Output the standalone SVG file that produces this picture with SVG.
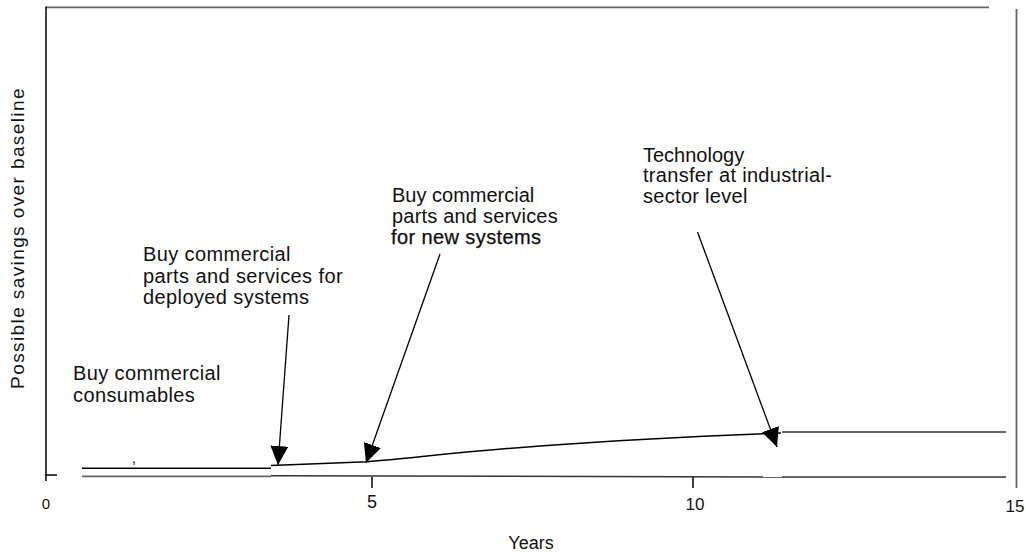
<svg xmlns="http://www.w3.org/2000/svg" width="1026" height="552" viewBox="0 0 1026 552">
<style>
text{font-family:"Liberation Sans",Arial,sans-serif;fill:#111}
.lbl{font-size:20px;letter-spacing:0.4px}
.tick{font-size:17px;text-anchor:middle}
.ax{stroke:#000;stroke-width:1.5;fill:none}
.gr{stroke:#666;stroke-width:1.8;fill:none}
.arr{stroke:#000;stroke-width:1.3;fill:none;marker-end:url(#ah)}
</style>
<defs>
<marker id="ah" markerUnits="userSpaceOnUse" markerWidth="21" markerHeight="19" refX="19" refY="9" orient="auto">
<path d="M0,0 L19,9 L0,18 Z" fill="#000"/>
</marker>
</defs>
<rect width="1026" height="552" fill="#fff"/>
<g id="frame">
<line class="gr" x1="46" y1="7.3" x2="989" y2="7.3"/>
<line class="ax" x1="46" y1="6.5" x2="46" y2="476"/>
<line class="gr" x1="1016.5" y1="9" x2="1016.5" y2="488" stroke-width="2"/>
<line class="ax" x1="45" y1="475" x2="57" y2="475" stroke-width="1"/>
<line class="ax" x1="46" y1="475" x2="46" y2="481" stroke-width="1"/>
<line class="ax" x1="372" y1="477" x2="372" y2="488" stroke="#444"/>
<line class="ax" x1="693" y1="477" x2="693" y2="488" stroke="#666"/>
</g>
<g id="savings-lines">
<line class="ax" x1="82" y1="468.3" x2="271" y2="468.3"/>
<line class="gr" x1="82" y1="476.3" x2="271" y2="476.3"/>
<path class="ax" d="M271,465.5 L367,461.7 C420,457 470,451 540,446 C620,440 700,436 781,433"/>
<line x1="271" y1="475.8" x2="782" y2="477" stroke="#333" stroke-width="1.5"/>
<line class="gr" x1="782" y1="432" x2="1006" y2="432"/>
<line class="gr" x1="782" y1="477" x2="1006" y2="477"/>
</g>
<g id="connectors">
<line class="arr" x1="289" y1="315" x2="278" y2="465"/>
<line class="arr" x1="440" y1="254" x2="366" y2="463"/>
<line class="arr" x1="697.5" y1="232" x2="777" y2="447"/>
</g>
<g id="label-consumables">
<text class="lbl" x="73" y="380">Buy commercial</text>
<text class="lbl" x="73" y="402">consumables</text>
<text x="132" y="463" font-size="14" style="fill:#000">,</text>
</g>
<g id="label-deployed">
<text class="lbl" x="143" y="261">Buy commercial</text>
<text class="lbl" x="143" y="283">parts and services for</text>
<text class="lbl" x="143" y="304">deployed systems</text>
</g>
<g id="label-new">
<text class="lbl" x="392" y="201.7" style="letter-spacing:0px">Buy commercial</text>
<text class="lbl" x="392" y="223" style="letter-spacing:0.2px">parts and services</text>
<text class="lbl" x="391" y="244" stroke="#000" stroke-width="0.25">for new systems</text>
</g>
<g id="label-technology">
<text class="lbl" x="643" y="161.7" style="letter-spacing:0px">Technology</text>
<text class="lbl" x="643" y="182" style="letter-spacing:0.3px">transfer at industrial-</text>
<text class="lbl" x="643" y="203" style="letter-spacing:0.3px">sector level</text>
</g>
<g id="axis-labels">
<text x="46" y="509" font-size="15" text-anchor="middle">0</text>
<text class="tick" x="372" y="508" style="font-size:18px">5</text>
<text class="tick" x="695" y="510">10</text>
<text class="tick" x="1015" y="512">15</text>
<text x="531" y="549" font-size="18" text-anchor="middle">Years</text>
<text transform="translate(24,238) rotate(-90)" font-size="19" text-anchor="middle" letter-spacing="1.4">Possible savings over baseline</text>
</g>
</svg>
